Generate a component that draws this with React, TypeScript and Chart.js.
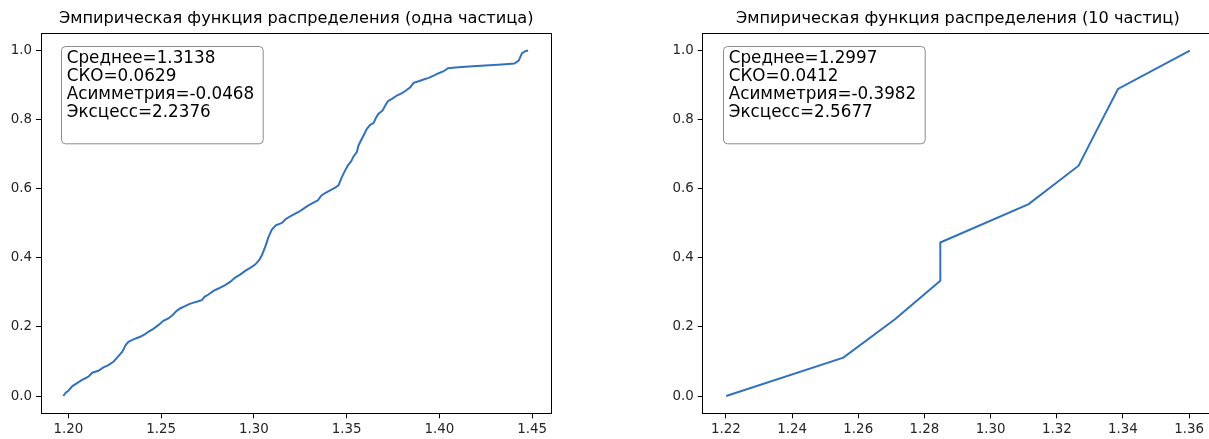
import { useEffect, useRef } from "react";
import { Chart, registerables } from "chart.js";

Chart.register(...registerables);

// ---- data -------------------------------------------------------------

const singleTitle = "Эмпирическая функция распределения (одна частица)";
const tenTitle = "Эмпирическая функция распределения (10 частиц)";

const singleStats = ["Среднее=1.3138", "СКО=0.0629", "Асимметрия=-0.0468", "Эксцесс=2.2376"];
const tenStats = ["Среднее=1.2997", "СКО=0.0412", "Асимметрия=-0.3982", "Эксцесс=2.5677"];

// sorted sample values (one particle) and their cumulative fractions
const singleX = [
  1.1973, 1.1986, 1.2, 1.2022, 1.2045, 1.2072, 1.2108, 1.2129, 1.2162, 1.2189,
  1.2216, 1.2243, 1.227, 1.2291, 1.2309, 1.2324, 1.2351, 1.2387, 1.2414, 1.2431,
  1.2458, 1.2485, 1.2512, 1.2539, 1.2561, 1.2584, 1.2602, 1.2629, 1.2651, 1.2683,
  1.2719, 1.2734, 1.2755, 1.2782, 1.2809, 1.2845, 1.2872, 1.2899, 1.2926, 1.2953,
  1.298, 1.3007, 1.3028, 1.3043, 1.3061, 1.3079, 1.3097, 1.3118, 1.3151, 1.3172,
  1.3205, 1.3241, 1.3268, 1.3294, 1.3321, 1.3345, 1.3363, 1.3384, 1.3411, 1.3438,
  1.3456, 1.3474, 1.3492, 1.3507, 1.3525, 1.3537, 1.3555, 1.3564, 1.3579, 1.3591,
  1.3609, 1.3627, 1.3645, 1.3658, 1.3672, 1.3694, 1.3708, 1.3722, 1.3744, 1.3771,
  1.3798, 1.382, 1.3843, 1.3861, 1.3888, 1.3915, 1.3942, 1.3969, 1.3996, 1.4023,
  1.4046, 1.4086, 1.4158, 1.4247, 1.4337, 1.4404, 1.4427, 1.4445, 1.4463, 1.4478,
];
const singleY = [
  0.0, 0.0096, 0.0154, 0.0289, 0.0366, 0.0462, 0.0559, 0.0674, 0.0732, 0.0829,
  0.0896, 0.0992, 0.1156, 0.1281, 0.1474, 0.157, 0.1638, 0.1715, 0.1792, 0.1859,
  0.1946, 0.2052, 0.2177, 0.2245, 0.2341, 0.2466, 0.2534, 0.2601, 0.2659, 0.2717,
  0.2775, 0.2871, 0.2938, 0.3044, 0.3112, 0.3208, 0.3304, 0.343, 0.3516, 0.3622,
  0.3709, 0.3805, 0.3931, 0.4075, 0.4316, 0.4605, 0.4817, 0.4942, 0.501, 0.5125,
  0.5231, 0.5328, 0.5424, 0.552, 0.5597, 0.5665, 0.58, 0.5877, 0.5954, 0.6031,
  0.6098, 0.6339, 0.6532, 0.6676, 0.6801, 0.6936, 0.7062, 0.7254, 0.7418, 0.7543,
  0.7736, 0.7852, 0.79, 0.8054, 0.817, 0.8266, 0.841, 0.8536, 0.8603, 0.8699,
  0.8767, 0.8844, 0.894, 0.9066, 0.9114, 0.9162, 0.921, 0.9277, 0.9345, 0.9403,
  0.9489, 0.9509, 0.9538, 0.9566, 0.9595, 0.9624, 0.9711, 0.9923, 0.9981, 1.0,
];

// ten particles: sorted values and i/9 fractions
const tenX = [1.2201, 1.2555, 1.2711, 1.2848, 1.2848, 1.3115, 1.3266, 1.3325, 1.3385, 1.3602];
const tenY = [0.0, 0.1111, 0.2222, 0.3333, 0.4444, 0.5556, 0.6667, 0.7778, 0.8889, 1.0];

const singleXTicks = [1.2, 1.25, 1.3, 1.35, 1.4, 1.45];
const tenXTicks = [1.22, 1.24, 1.26, 1.28, 1.3, 1.32, 1.34, 1.36];
const yTicks = [0.0, 0.2, 0.4, 0.6, 0.8, 1.0];

// ---- drawing ----------------------------------------------------------

const FONT = '"DejaVu Sans", "Liberation Sans", sans-serif';
const LINE_COLOR = "#3272bd";
const CANVAS_H = 439;
const AREA_TOP = 33.3;
const AREA_BOTTOM = 413.3;

type PanelProps = {
  title: string;
  stats: string[];
  xs: number[];
  ys: number[];
  xTicks: number[];
  xMin: number;
  xMax: number;
  xDigits: number;
  left: number;
  width: number;
  areaLeft: number;
  areaRight: number;
  rightBorder: boolean;
};

function EcdfPanel(p: PanelProps) {
  const ref = useRef<HTMLCanvasElement>(null);

  useEffect(() => {
    const canvas = ref.current;
    if (!canvas) return;

    const overlay = {
      id: "ecdfOverlay",
      afterDraw(chart: any) {
        const { ctx, chartArea: a } = chart;
        ctx.save();

        // remaining frame edges
        ctx.strokeStyle = "#000";
        ctx.lineWidth = 1;
        const top = Math.round(a.top) + 0.5;
        const right = Math.round(a.right) - 0.5;
        ctx.beginPath();
        ctx.moveTo(a.left, top);
        ctx.lineTo(a.right, top);
        if (p.rightBorder) {
          ctx.moveTo(right, a.top);
          ctx.lineTo(right, a.bottom);
        }
        ctx.stroke();

        // title
        ctx.fillStyle = "#000";
        ctx.font = `16.2px ${FONT}`;
        ctx.textAlign = "center";
        ctx.textBaseline = "alphabetic";
        ctx.fillText(p.title, (a.left + a.right) / 2, a.top - 10);

        // statistics box
        const bx = Math.round(a.left + 20) + 0.5;
        const by = Math.round(a.top + 12.7) + 0.5;
        const bw = 201.7;
        const bh = 97.3;
        const r = 4;
        ctx.beginPath();
        ctx.moveTo(bx + r, by);
        ctx.lineTo(bx + bw - r, by);
        ctx.arcTo(bx + bw, by, bx + bw, by + r, r);
        ctx.lineTo(bx + bw, by + bh - r);
        ctx.arcTo(bx + bw, by + bh, bx + bw - r, by + bh, r);
        ctx.lineTo(bx + r, by + bh);
        ctx.arcTo(bx, by + bh, bx, by + bh - r, r);
        ctx.lineTo(bx, by + r);
        ctx.arcTo(bx, by, bx + r, by, r);
        ctx.closePath();
        ctx.fillStyle = "#fff";
        ctx.fill();
        ctx.strokeStyle = "#8c8c8c";
        ctx.stroke();

        ctx.fillStyle = "#000";
        ctx.font = `16.8px ${FONT}`;
        ctx.textAlign = "left";
        ctx.textBaseline = "middle";
        p.stats.forEach((line, i) => {
          ctx.fillText(line, bx + 5.2, by + 12.5 + i * 17.8);
        });

        ctx.restore();
      },
    };

    const tickFont = { family: FONT, size: 13.4 };

    const chart = new Chart(canvas, {
      type: "line",
      data: {
        datasets: [
          {
            data: p.xs.map((x, i) => ({ x, y: p.ys[i] })),
            borderColor: LINE_COLOR,
            borderWidth: 2,
            pointRadius: 0,
            tension: 0,
            fill: false,
          },
        ],
      },
      options: {
        responsive: false,
        animation: false,
        events: [],
        layout: {
          padding: { top: AREA_TOP, right: p.width - p.areaRight, left: 0, bottom: 0 },
        },
        plugins: {
          legend: { display: false },
          tooltip: { enabled: false },
          title: { display: false },
        },
        scales: {
          x: {
            type: "linear",
            min: p.xMin,
            max: p.xMax,
            afterBuildTicks: (s: any) => {
              s.ticks = p.xTicks.map((value) => ({ value }));
            },
            afterFit: (s: any) => {
              s.height = CANVAS_H - AREA_BOTTOM;
            },
            ticks: {
              autoSkip: false,
              maxRotation: 0,
              padding: 3,
              color: "#262626",
              font: tickFont,
              callback: (v: any) => Number(v).toFixed(p.xDigits),
            },
            grid: { drawOnChartArea: false, drawTicks: true, tickLength: 5, color: "#000" },
            border: { display: true, color: "#000", width: 1 },
          },
          y: {
            type: "linear",
            min: -0.05,
            max: 1.05,
            afterBuildTicks: (s: any) => {
              s.ticks = yTicks.map((value) => ({ value }));
            },
            afterFit: (s: any) => {
              s.width = p.areaLeft;
            },
            ticks: {
              autoSkip: false,
              padding: 4,
              color: "#262626",
              font: tickFont,
              callback: (v: any) => Number(v).toFixed(1),
            },
            grid: { drawOnChartArea: false, drawTicks: true, tickLength: 5, color: "#000" },
            border: { display: true, color: "#000", width: 1 },
          },
        },
      },
      plugins: [overlay],
    });

    return () => chart.destroy();
  }, []);

  return (
    <canvas
      ref={ref}
      width={p.width}
      height={CANVAS_H}
      style={{ position: "absolute", left: p.left, top: 0, width: p.width, height: CANVAS_H }}
    />
  );
}

export default function App() {
  return (
    <div
      style={{
        position: "fixed",
        left: 0,
        top: 0,
        width: 1209,
        height: CANVAS_H,
        overflow: "hidden",
        background: "#fff",
      }}
    >
      <EcdfPanel
        title={singleTitle}
        stats={singleStats}
        xs={singleX}
        ys={singleY}
        xTicks={singleXTicks}
        xMin={1.18527}
        xMax={1.4604}
        xDigits={2}
        left={0}
        width={600}
        areaLeft={41}
        areaRight={551.5}
        rightBorder={true}
      />
      <EcdfPanel
        title={tenTitle}
        stats={tenStats}
        xs={tenX}
        ys={tenY}
        xTicks={tenXTicks}
        xMin={1.213}
        xMax={1.3672}
        xDigits={2}
        left={600}
        width={660}
        areaLeft={102.7}
        areaRight={613}
        rightBorder={false}
      />
    </div>
  );
}
